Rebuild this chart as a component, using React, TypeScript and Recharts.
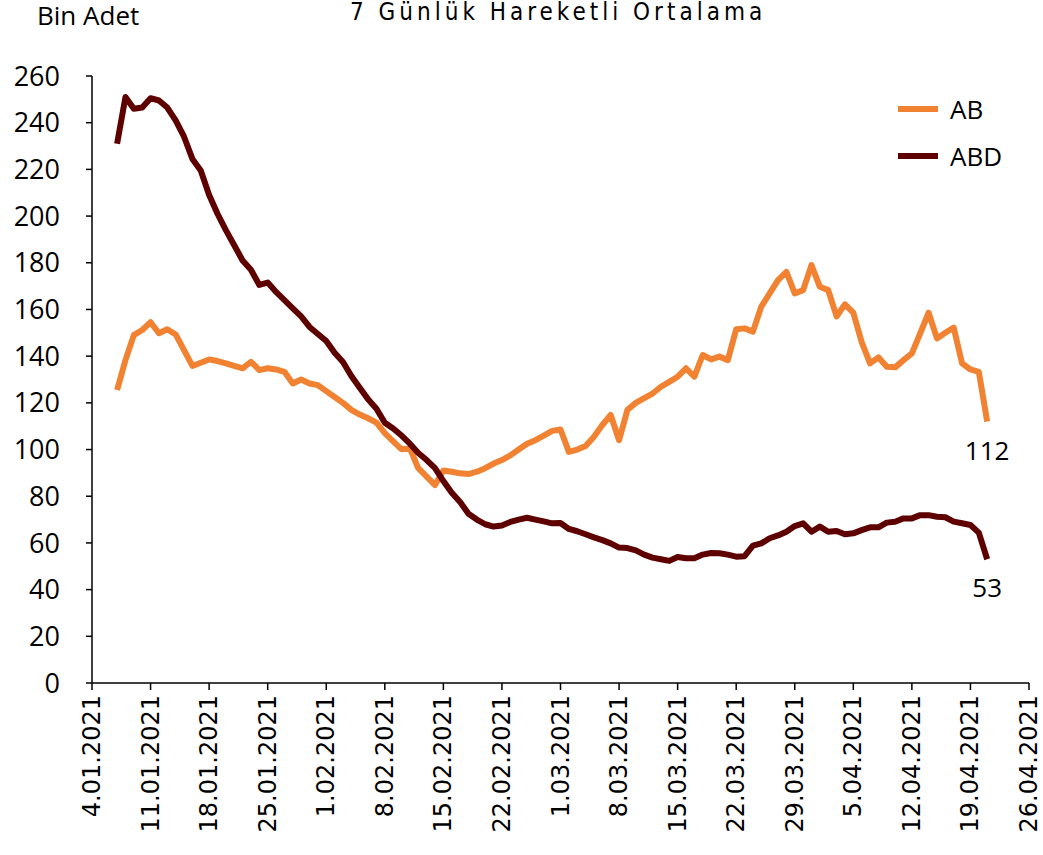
import React from "react";
import { Legend, Line, LineChart, XAxis, YAxis } from "recharts";

// day index counted from 4.01.2021; the first value is 7.01.2021
const startDay = 3;

const tickLabels = [
  "4.01.2021", "11.01.2021", "18.01.2021", "25.01.2021", "1.02.2021", "8.02.2021",
  "15.02.2021", "22.02.2021", "1.03.2021", "8.03.2021", "15.03.2021", "22.03.2021",
  "29.03.2021", "5.04.2021", "12.04.2021", "19.04.2021", "26.04.2021",
];
const yTicks = [0, 20, 40, 60, 80, 100, 120, 140, 160, 180, 200, 220, 240, 260];

const ab = [
  125.5, 138.3, 149, 151.2, 154.5, 149.8, 151.5, 149.3, 142.6, 135.8,
  137.2, 138.6, 137.9, 136.9, 135.8, 134.8, 137.6, 134, 134.8, 134.3,
  133.3, 128.3, 130, 128.3, 127.6, 125, 122.5, 120, 117, 115,
  113.4, 111.5, 107, 103.5, 100.1, 100.5, 92, 88.4, 84.8, 91,
  90.5, 89.8, 89.5, 90.5, 92, 94, 95.5, 97.5, 100, 102.5,
  104, 106, 108, 108.6, 99, 100, 101.5, 105.5, 110.5, 114.8,
  104, 117, 120, 122, 124, 126.9, 129, 131.2, 134.8, 131.2,
  140.5, 138.6, 139.8, 138.3, 151.5, 151.9, 150.5, 161.2, 166.9, 172.6,
  176.1, 166.9, 168.3, 179, 169.7, 168.3, 157, 162.2, 158.6, 146,
  136.9, 139.5, 135.5, 135.2, 138.3, 141.2, 149.8, 158.6, 147.6, 150,
  152.2, 136.9, 134.3, 133.3, 112,
];

const abd = [
  231, 251, 246, 246.5, 250.5, 249.5, 246.5, 241, 234, 224.5,
  219.5, 209, 201, 194, 187.5, 181, 177, 170.5, 171.5, 167.5,
  164, 160.5, 157, 152.5, 149.5, 146.5, 141.5, 137.5, 131.5, 126.5,
  121.5, 117.5, 111.5, 109, 106, 102.5, 98.5, 95.5, 92, 86.5,
  81.5, 77.5, 72.5, 70, 68, 67, 67.5, 69, 70, 70.8,
  70, 69.2, 68.4, 68.5, 66, 65, 63.7, 62.4, 61.2, 59.8,
  58, 57.8, 56.8, 55, 53.7, 53, 52.3, 54, 53.4, 53.4,
  55, 55.7, 55.6, 55, 54.1, 54.3, 58.8, 59.8, 62, 63.2,
  64.8, 67.2, 68.4, 64.8, 67, 64.8, 65.1, 63.7, 64.1, 65.5,
  66.7, 66.7, 68.7, 69.1, 70.5, 70.5, 71.9, 71.9, 71.2, 71,
  69.1, 68.4, 67.7, 64.4, 53,
];

const AB_COLOR = "#f08232";
const ABD_COLOR = "#5e0000";
const FONT = "'Open Sans', sans-serif";

const data = ab.map((v, i) => ({ day: startDay + i, ab: v, abd: abd[i] }));
const last = data.length - 1;

function DateTick({ x, y, payload }: any) {
  return (
    <text
      x={x}
      y={y}
      transform={`rotate(-90, ${x}, ${y})`}
      textAnchor="end"
      dominantBaseline="central"
      fontFamily="'DejaVu Sans', sans-serif"
      fontSize={24}
      fill="#000"
    >
      {tickLabels[Math.round(payload.value / 7)]}
    </text>
  );
}

function EndLabel({ x, y, index, value }: any) {
  if (index !== last) return null;
  return (
    <text x={x} y={y + 28} textAnchor="middle" dominantBaseline="central" fontFamily={FONT} fontSize={26} fill="#000">
      {Math.round(value)}
    </text>
  );
}

function LegendBox() {
  const items = [
    { name: "AB", color: AB_COLOR },
    { name: "ABD", color: ABD_COLOR },
  ];
  return (
    <div>
      {items.map((it) => (
        <div key={it.name} style={{ display: "flex", alignItems: "center", height: 47 }}>
          <div style={{ width: 40, height: 6, background: it.color, marginRight: 12 }} />
          <span style={{ fontFamily: FONT, fontSize: 26, color: "#000" }}>{it.name}</span>
        </div>
      ))}
    </div>
  );
}

export default function App() {
  return (
    <div style={{ position: "absolute", left: 0, top: 0, width: 1043, height: 855, background: "#fff", overflow: "hidden" }}>
      <div style={{ position: "absolute", left: 37, top: 1, fontFamily: FONT, fontSize: 26, lineHeight: "28px" }}>
        Bin Adet
      </div>
      <div
        style={{
          position: "absolute",
          left: 350,
          top: 0,
          fontFamily: "'DejaVu Sans Condensed', 'DejaVu Sans', sans-serif",
          fontSize: 24,
          letterSpacing: 4,
          lineHeight: "24px",
        }}
      >
        7 Günlük Hareketli Ortalama
      </div>
      <LineChart width={1043} height={855} data={data} margin={{ top: 76, right: 14, left: 0, bottom: 0 }}>
        <XAxis
          dataKey="day"
          type="number"
          domain={[0, 112]}
          ticks={tickLabels.map((_, i) => i * 7)}
          interval={0}
          height={172}
          tick={<DateTick />}
          tickSize={7}
          tickMargin={5}
          stroke="#000"
          strokeWidth={1.5}
        />
        <YAxis
          domain={[0, 260]}
          ticks={yTicks}
          interval={0}
          width={92}
          tickSize={6}
          tickMargin={26}
          stroke="#000"
          strokeWidth={1.5}
          tick={{ fill: "#000", fontSize: 27, fontFamily: FONT }}
        />
        <Legend
          layout="horizontal"
          verticalAlign="middle"
          align="center"
          content={<LegendBox />}
          wrapperStyle={{ position: "absolute", left: 898, top: 85, width: 130 }}
        />
        <Line
          dataKey="ab"
          name="AB"
          stroke={AB_COLOR}
          strokeWidth={6}
          dot={false}
          strokeLinejoin="round"
          label={<EndLabel />}
          isAnimationActive={false}
        />
        <Line
          dataKey="abd"
          name="ABD"
          stroke={ABD_COLOR}
          strokeWidth={6}
          dot={false}
          strokeLinejoin="round"
          label={<EndLabel />}
          isAnimationActive={false}
        />
      </LineChart>
    </div>
  );
}
